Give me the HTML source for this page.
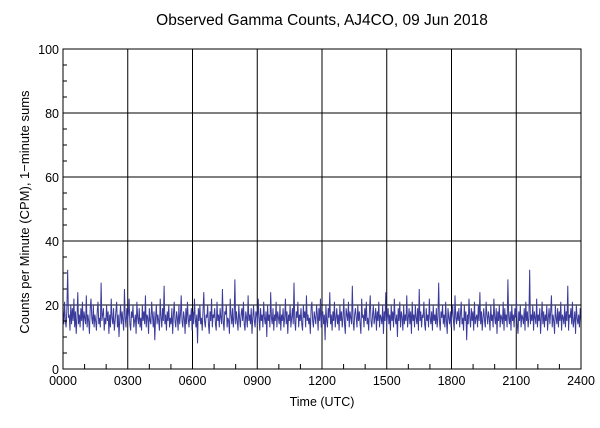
<!DOCTYPE html>
<html><head><meta charset="utf-8"><style>
body{margin:0;background:#fff;}
svg{display:block;font-family:"Liberation Sans",sans-serif;}
</style></head><body>
<svg id="chart" width="600" height="428">
<rect x="0" y="0" width="600" height="428" fill="#fff"/>
<text x="322" y="25" font-size="15.5" text-anchor="middle">Observed Gamma Counts, AJ4CO, 09 Jun 2018</text>
<text x="322" y="406" font-size="12.5" text-anchor="middle">Time (UTC)</text>
<text transform="translate(29,212) rotate(-90)" font-size="13" text-anchor="middle">Counts per Minute (CPM), 1−minute sums</text>
<g id="grid"></g>
<g id="series"></g>
<g id="axes"></g>
</svg>
<script>
const xTickLabels=["0000","0300","0600","0900","1200","1500","1800","2100","2400"];
const yTickValues=[0,20,40,60,80,100];
const cpm=[18,14,21,15,13,19,31,16,17,12,20,14,19,15,22,13,18,11,16,24,14,17,13,19,15,21,12,18,16,14,23,13,17,15,11,19,22,16,14,20,13,17,15,12,18,21,14,16,13,27,15,17,19,12,16,14,20,15,18,11,17,13,22,16,14,19,12,15,18,21,13,17,10,16,20,14,18,15,12,25,16,13,19,15,17,22,14,12,18,16,20,13,15,17,11,21,16,14,19,13,
16,12,20,15,18,14,23,13,17,16,11,19,15,14,21,17,13,18,9,16,20,14,17,15,12,22,16,13,19,15,26,14,17,12,18,15,20,13,16,14,19,11,17,21,15,13,18,16,12,20,14,17,23,15,13,18,16,11,19,14,21,16,13,17,15,19,12,18,14,22,16,13,17,8,19,15,20,14,16,12,18,24,15,13,17,16,20,14,11,18,15,22,13,17,16,19,14,12,21,15,
17,13,19,16,14,25,15,12,18,17,20,13,16,15,11,22,17,14,19,13,16,28,14,18,15,12,20,16,13,17,19,15,21,14,12,18,16,13,23,15,17,14,19,11,16,20,15,13,18,17,14,22,16,12,19,15,17,13,21,16,14,18,10,20,15,17,13,24,16,14,19,12,17,15,21,13,18,16,14,20,12,17,15,19,13,16,22,14,18,11,17,15,20,13,16,19,14,27,15,12,
18,16,21,13,17,15,19,14,12,20,16,18,13,23,15,17,14,16,11,19,21,15,13,18,16,14,20,17,12,19,15,22,13,16,18,14,17,9,20,15,13,19,16,24,14,17,12,18,15,21,13,16,19,14,17,12,20,15,18,13,16,22,14,11,19,17,15,21,13,18,16,14,26,15,12,17,19,16,13,20,15,18,14,11,22,16,17,13,19,15,21,14,16,12,18,23,15,13,17,20,
14,16,19,12,18,15,21,13,17,16,14,20,11,18,15,24,13,16,19,14,17,12,20,15,18,13,22,16,14,17,10,19,15,21,13,18,16,12,20,14,17,15,23,13,16,19,14,18,11,21,15,17,13,20,16,14,19,12,25,15,18,13,17,16,21,14,12,19,15,17,13,22,16,14,18,12,20,15,17,14,19,13,16,27,15,12,18,16,20,14,17,13,21,15,11,19,16,14,18,13,
17,20,15,12,23,16,14,18,15,19,13,17,21,14,16,12,20,15,18,9,17,14,22,16,13,19,15,18,12,21,14,16,17,13,20,15,24,14,18,12,16,19,15,13,21,17,14,18,16,12,20,15,17,13,22,16,14,19,11,18,15,20,13,17,16,14,21,12,19,15,17,13,28,16,14,18,12,20,15,17,13,19,16,22,14,11,18,15,20,13,17,16,14,19,12,21,15,18,13,16,
31,14,17,15,20,12,18,16,14,22,13,17,15,19,11,16,21,14,18,13,17,15,20,12,16,19,14,18,23,13,17,15,11,20,16,14,19,13,18,15,21,12,17,16,14,20,13,18,15,26,12,17,16,19,14,21,13,15,18,11,20,16,14,17,13,19,15];
const L=63,R=581,T=49,B=369,NS="http://www.w3.org/2000/svg";
const xs=i=>L+(R-L)*i/(cpm.length-1);
const ys=v=>B-(B-T)*v/100;
const xh=h=>L+(R-L)*h/24;
function mk(tag,attrs,parent){const e=document.createElementNS(NS,tag);for(const k in attrs)e.setAttribute(k,attrs[k]);parent.appendChild(e);return e;}
const grid=document.getElementById('grid'),axes=document.getElementById('axes'),series=document.getElementById('series');
xTickLabels.forEach((lab,i)=>{const x=xh(i*3);
 const g=mk('line',{x1:x,x2:x,y1:T,y2:B,stroke:'#000','stroke-width':1},grid);
 
 
 const t=mk('text',{x:x,y:B+16,'font-size':12.5,'text-anchor':'middle'},axes);t.textContent=lab;
 
 
});
for(let h=1;h<24;h++){if(h%3===0)continue;const x=xh(h);
 const m=mk('line',{x1:x,x2:x,y1:B,y2:B-5,stroke:'#000'},axes);
 
 }
yTickValues.forEach(v=>{const y=ys(v);
 const g=mk('line',{x1:L,x2:R,y1:y,y2:y,stroke:'#000'},grid);
 
 
 const t=mk('text',{x:L-4,y:y+5,'font-size':12.5,'text-anchor':'end'},axes);t.textContent=v;
 
 
});
for(let v=5;v<100;v+=5){if(v%20===0)continue;const y=ys(v);
 const m=mk('line',{x1:L,x2:L+4,y1:y,y2:y,stroke:'#000'},axes);
 
 }
const frame=mk('rect',{x:L,y:T,width:R-L,height:B-T,fill:'none',stroke:'#000'},axes);


const pts=cpm.map((v,i)=>xs(i).toFixed(2)+','+ys(v).toFixed(2)).join(' ');
const pl=mk('polyline',{points:pts,fill:'none',stroke:'#3b3b9c','stroke-width':1},series);


</script>
</body></html>
